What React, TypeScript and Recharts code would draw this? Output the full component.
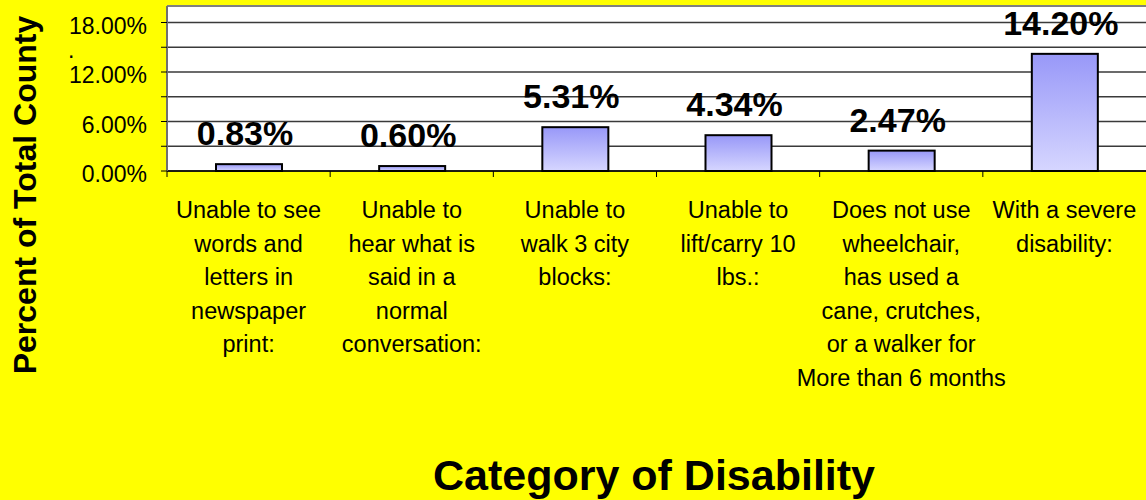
import React from "react";
import { BarChart, Bar, XAxis, YAxis, CartesianGrid, ReferenceLine, LabelList, Label } from "recharts";

const categories = [
  "Unable to see words and letters in newspaper print:",
  "Unable to hear what is said in a normal conversation:",
  "Unable to walk 3 city blocks:",
  "Unable to lift/carry 10 lbs.:",
  "Does not use wheelchair, has used a cane, crutches, or a walker for More than 6 months",
  "With a severe disability:",
];
const values = [0.83, 0.6, 5.31, 4.34, 2.47, 14.2];
const categoryLines = [
  ["Unable to see", "words and", "letters in", "newspaper", "print:"],
  ["Unable to", "hear what is", "said in a", "normal", "conversation:"],
  ["Unable to", "walk 3 city", "blocks:"],
  ["Unable to", "lift/carry 10", "lbs.:"],
  ["Does not use", "wheelchair,", "has used a", "cane, crutches,", "or a walker for", "More than 6 months"],
  ["With a severe", "disability:"],
];
const yTicks = [0, 3, 6, 9, 12, 15, 18];
const yTickLabels: Record<number, string> = { 0: "0.00%", 6: "6.00%", 12: "12.00%", 15: ".", 18: "18.00%" };
const yTitle = "Percent of Total County";
const xTitle = "Category of Disability";

const data = categories.map((name, i) => ({ name, value: values[i] }));

const W = 1146;
const H = 500;
const PLOT_LEFT = 167;
const PLOT_TOP = 6;
const PLOT_BOTTOM = 171;
const BAND = (W - PLOT_LEFT) / categories.length;
const FONT = "'Liberation Sans', Arial, sans-serif";

const XTick = (props: any) => {
  const { x, y, index } = props;
  const lines = categoryLines[index] || [];
  return (
    <g>
      <line x1={x - BAND / 2} x2={x - BAND / 2} y1={y} y2={y + 6} stroke="#000" strokeWidth={1} />
      {lines.map((ln, i) => (
        <text
          key={i}
          x={x}
          y={y + 47 + i * 33.5}
          textAnchor="middle"
          fontFamily={FONT}
          fontSize={23.5}
          fill="#000"
        >
          {ln}
        </text>
      ))}
    </g>
  );
};

const YTick = (props: any) => {
  const { x, y, payload } = props;
  const lbl = yTickLabels[payload.value];
  const isDot = lbl === ".";
  return (
    <g>
      <line x1={x - 6} x2={x} y1={y} y2={y} stroke="#000" strokeWidth={1} />
      {lbl ? (
        <text
          x={isDot ? 68 : x - 20}
          y={y + 11}
          textAnchor={isDot ? "start" : "end"}
          fontFamily={FONT}
          fontSize={23}
          fill="#000"
        >
          {lbl}
        </text>
      ) : null}
    </g>
  );
};

const BarShape = (props: any) => {
  const { x, y, width, height, index } = props;
  const id = `barGrad${index}`;
  return (
    <g>
      <defs>
        <linearGradient id={id} x1="0" y1="0" x2="0" y2="1">
          <stop offset="0%" stopColor="#9898F8" />
          <stop offset="100%" stopColor="#D6D6FF" />
        </linearGradient>
      </defs>
      <rect x={x} y={y} width={width} height={height} fill={`url(#${id})`} stroke="#000" strokeWidth={2} />
    </g>
  );
};

const ValueLabel = (props: any) => {
  const { x, y, width, value } = props;
  return (
    <text
      x={x + width / 2 - 4}
      y={y - 19}
      textAnchor="middle"
      fontFamily={FONT}
      fontWeight="bold"
      fontSize={34}
      fill="#000"
    >
      {Number(value).toFixed(2)}%
    </text>
  );
};

export default function App() {
  return (
    <div style={{ position: "absolute", left: 0, top: 0, width: W, height: H, background: "#FFFF00" }}>
      <BarChart
        width={W}
        height={H}
        data={data}
        margin={{ top: PLOT_TOP, right: 0, bottom: 0, left: 0 }}
        barCategoryGap={0}
        style={{ background: "#FFFF00" }}
      >
        <CartesianGrid vertical={false} fill="#FFFFFF" stroke="#3A3A3A" strokeWidth={1.5} horizontalValues={yTicks} />
        <ReferenceLine y={20} stroke="#808080" strokeWidth={2} ifOverflow="extendDomain" />
        <XAxis
          dataKey="name"
          height={H - PLOT_BOTTOM}
          tickSize={0}
          tickMargin={0}
          axisLine={{ stroke: "#000", strokeWidth: 1.5 }}
          tick={<XTick />}
          interval={0}
        >
          <Label
            content={() => (
              <text x={654} y={490} textAnchor="middle" fontFamily={FONT} fontWeight="bold" fontSize={43} fill="#000">
                {xTitle}
              </text>
            )}
          />
        </XAxis>
        <YAxis
          width={PLOT_LEFT}
          domain={[0, 20]}
          ticks={yTicks}
          tickSize={0}
          tickMargin={0}
          axisLine={{ stroke: "#707070", strokeWidth: 2 }}
          tick={<YTick />}
          interval={0}
        >
          <Label
            content={() => (
              <text
                x={36}
                y={195}
                textAnchor="middle"
                transform="rotate(-90, 36, 195)"
                fontFamily={FONT}
                fontWeight="bold"
                fontSize={32}
                fill="#000"
              >
                {yTitle}
              </text>
            )}
          />
        </YAxis>
        <Bar dataKey="value" barSize={66} shape={<BarShape />} isAnimationActive={false}>
          <LabelList dataKey="value" content={<ValueLabel />} />
        </Bar>
      </BarChart>
    </div>
  );
}
